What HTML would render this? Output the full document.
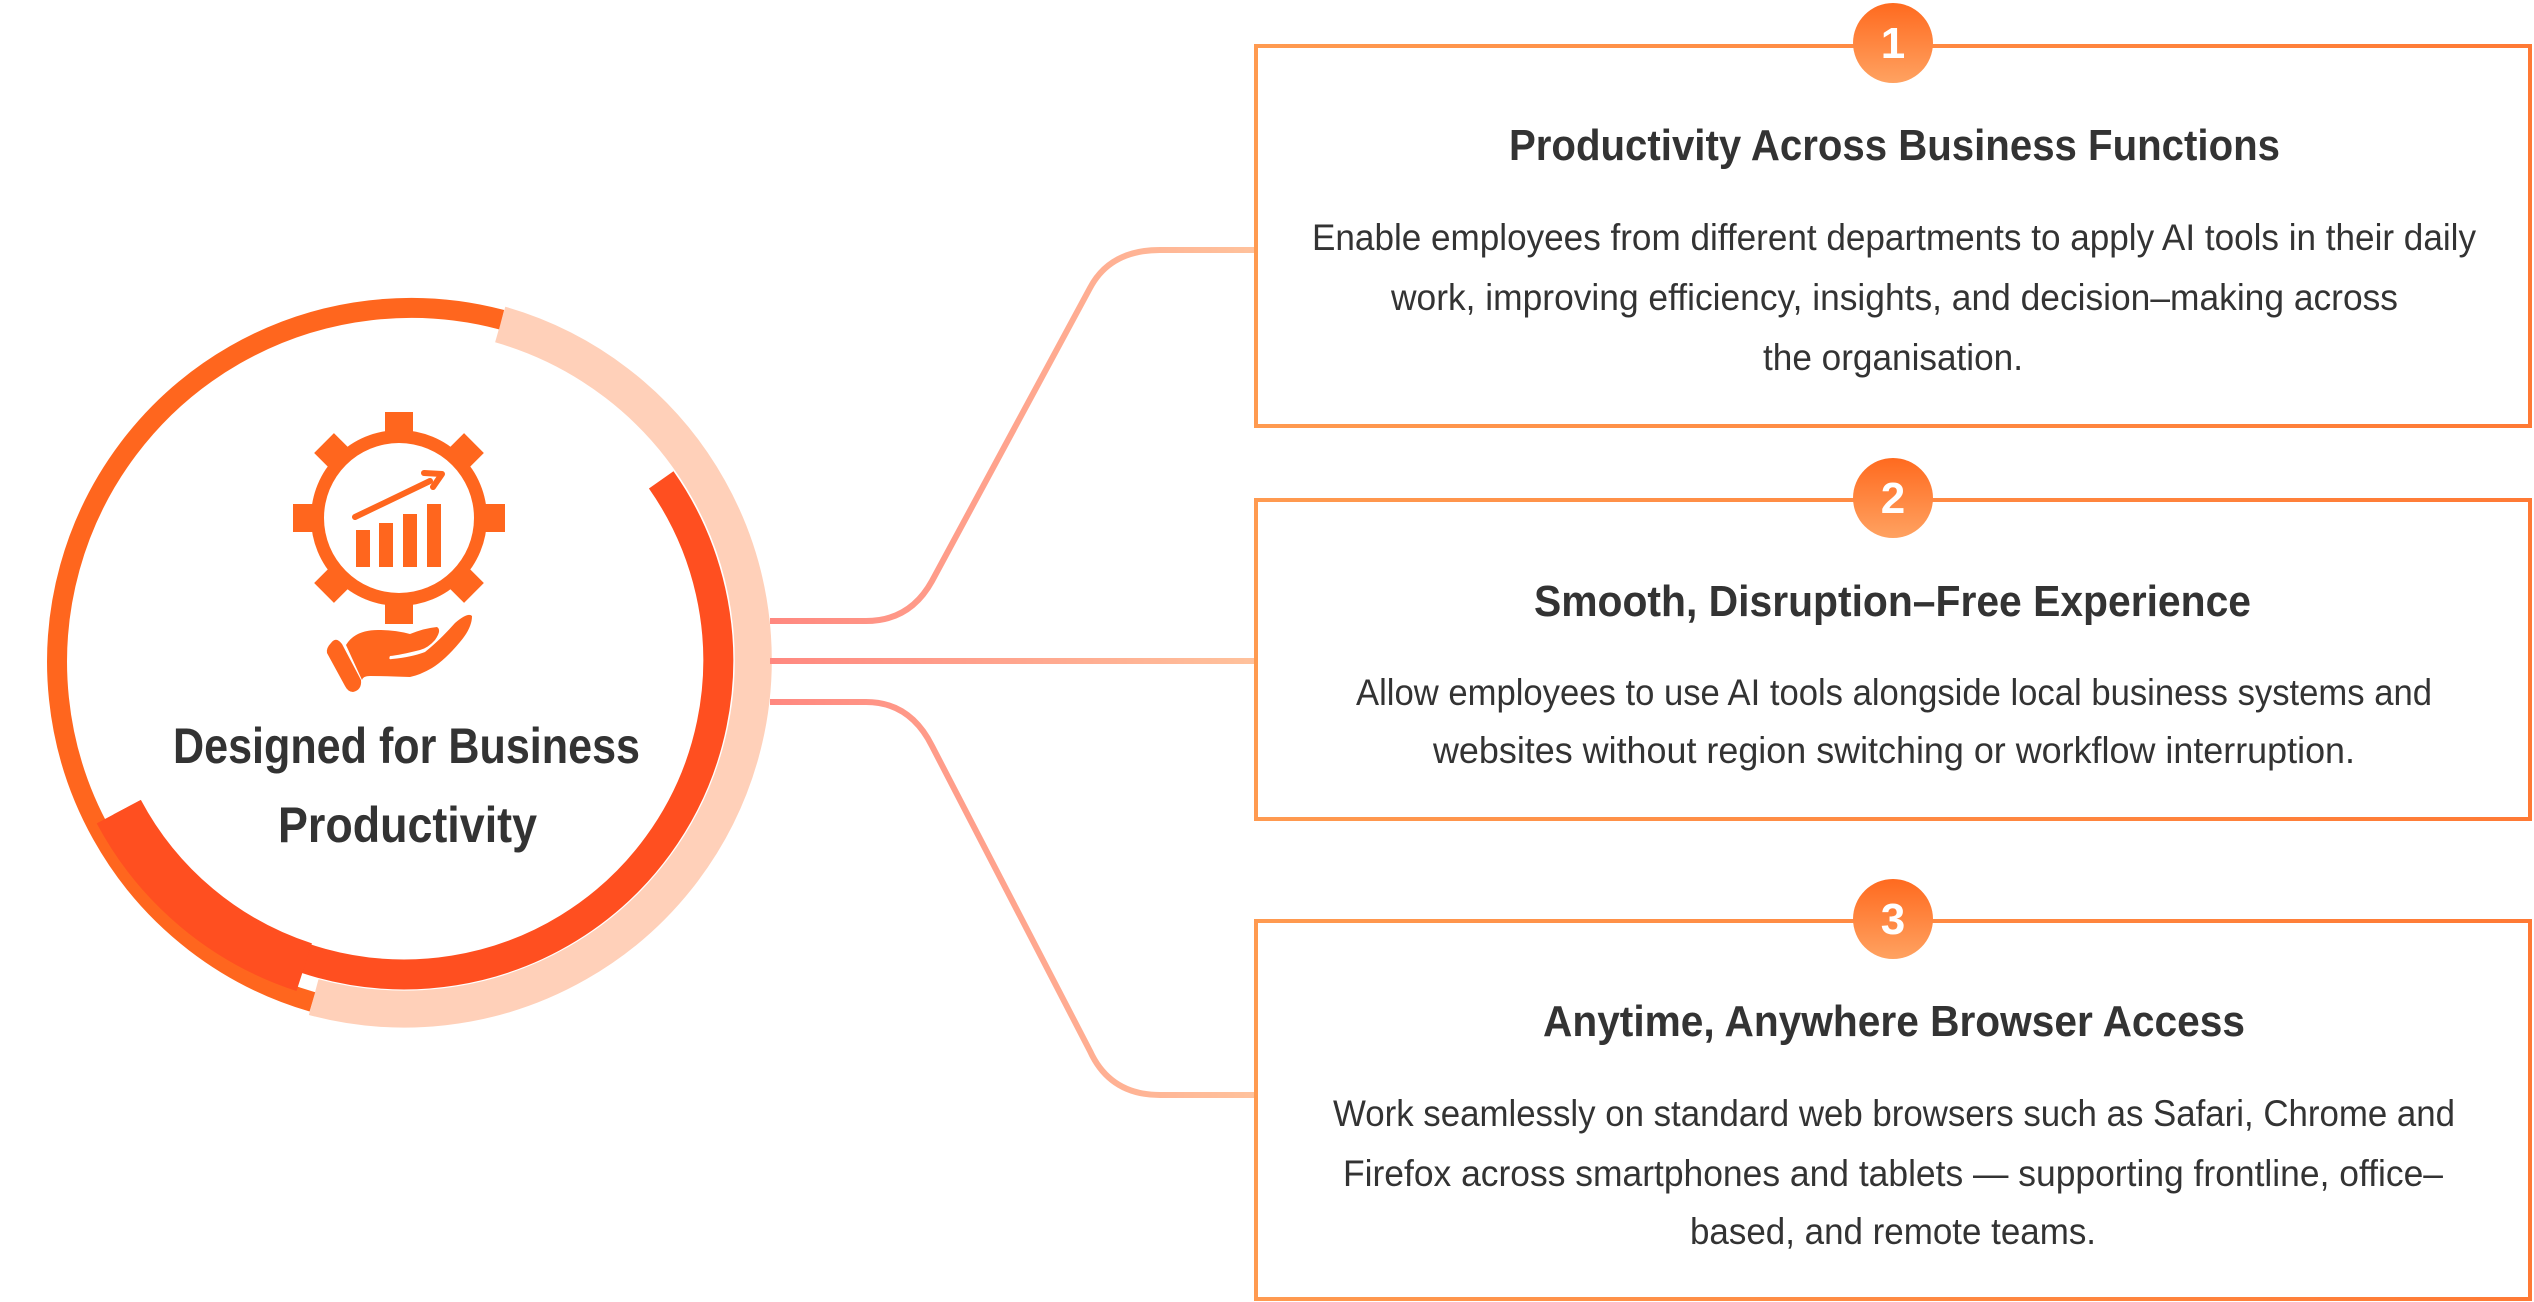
<!DOCTYPE html>
<html><head><meta charset="utf-8"><style>
html,body{margin:0;padding:0;background:#fff;}
svg{display:block;}
text{font-family:"Liberation Sans",sans-serif;}
</style></head><body>
<svg width="2534" height="1302" viewBox="0 0 2534 1302" xmlns="http://www.w3.org/2000/svg">
<defs>
<linearGradient id="ln" x1="770" y1="0" x2="1256" y2="0" gradientUnits="userSpaceOnUse">
<stop offset="0" stop-color="#ff8880"/><stop offset="1" stop-color="#ffc29c"/></linearGradient>
<linearGradient id="bx" x1="0" y1="0" x2="1" y2="0">
<stop offset="0" stop-color="#ff9a50"/><stop offset="1" stop-color="#ff7a35"/></linearGradient>
<linearGradient id="bd" x1="0" y1="0" x2="0" y2="1">
<stop offset="0" stop-color="#ff6a1f"/><stop offset="1" stop-color="#ffa261"/></linearGradient>
</defs>

<!-- rings -->
<g fill="none">
<!-- peach arc from -74 to 105 deg, r 349 w 37 -->
<path d="M 500.2 324.5 A 349 349 0 0 1 313.7 997.1" stroke="#ffd0b9" stroke-width="37"/>
<!-- orange thin ring 105 -> 286 r 354 w 20 -->
<path d="M 312.4 1001.9 A 354 354 0 0 1 501.6 319.7" stroke="#ff661e" stroke-width="20"/>
<!-- red thick arc -35 -> 152 r 314 w 30 -->
<path d="M 661.2 479.9 A 314 314 0 1 1 126.8 807.4" stroke="#ff4f20" stroke-width="30"/>
<!-- bottom-left thick band 108 -> 152 r 323 w 48 -->
<path d="M 304.2 967.2 A 323 323 0 0 1 118.8 811.6" stroke="#ff4f20" stroke-width="50"/>
</g>

<!-- connectors -->
<g fill="none" stroke="url(#ln)" stroke-width="6">
<path d="M 770 621 L 866 621 Q 910 621 932 581 L 1090 288 Q 1110 250 1160 250 L 1256 250"/>
<path d="M 770 661 L 1256 661"/>
<path d="M 770 702 L 866 702 Q 910 702 932 746 L 1090 1051 Q 1110 1095 1160 1095 L 1256 1095"/>
</g>

<!-- boxes -->
<g fill="#fff" stroke="url(#bx)" stroke-width="4">
<rect x="1256" y="46" width="1274" height="380"/>
<rect x="1256" y="500" width="1274" height="319"/>
<rect x="1256" y="921" width="1274" height="378"/>
</g>
<g fill="url(#bd)">
<circle cx="1893" cy="43" r="40"/>
<circle cx="1893" cy="498" r="40"/>
<circle cx="1893" cy="919" r="40"/>
</g>
<g fill="#fff" font-weight="bold" font-size="44" text-anchor="middle">
<text x="1893" y="58">1</text>
<text x="1893" y="513">2</text>
<text x="1893" y="934">3</text>
</g>

<g fill="#333" font-weight="bold" font-size="44">
<text x="1509" y="160" textLength="771" lengthAdjust="spacingAndGlyphs">Productivity Across Business Functions</text>
<text x="1534" y="616" textLength="717" lengthAdjust="spacingAndGlyphs">Smooth, Disruption–Free Experience</text>
<text x="1543" y="1036" textLength="702" lengthAdjust="spacingAndGlyphs">Anytime, Anywhere Browser Access</text>
</g>
<g fill="#333" font-size="37">
<text x="1312" y="250" textLength="1164" lengthAdjust="spacingAndGlyphs">Enable employees from different departments to apply AI tools in their daily</text>
<text x="1391" y="310" textLength="1007" lengthAdjust="spacingAndGlyphs">work, improving efficiency, insights, and decision–making across</text>
<text x="1763" y="370" textLength="260" lengthAdjust="spacingAndGlyphs">the organisation.</text>
<text x="1356" y="705" textLength="1076" lengthAdjust="spacingAndGlyphs">Allow employees to use AI tools alongside local business systems and</text>
<text x="1433" y="763" textLength="922" lengthAdjust="spacingAndGlyphs">websites without region switching or workflow interruption.</text>
<text x="1333" y="1126" textLength="1122" lengthAdjust="spacingAndGlyphs">Work seamlessly on standard web browsers such as Safari, Chrome and</text>
<text x="1343" y="1186" textLength="1100" lengthAdjust="spacingAndGlyphs">Firefox across smartphones and tablets — supporting frontline, office–</text>
<text x="1690" y="1244" textLength="406" lengthAdjust="spacingAndGlyphs">based, and remote teams.</text>
</g>

<!-- circle text -->
<g fill="#333" font-weight="bold" font-size="50">
<text x="173" y="763" textLength="467" lengthAdjust="spacingAndGlyphs">Designed for Business</text>
<text x="278" y="842" textLength="259" lengthAdjust="spacingAndGlyphs">Productivity</text>
</g>

<!-- icon: gear -->
<g fill="#ff661e" transform="translate(399,518)">
<circle r="88"/>
<g>
<rect x="-14" y="-106" width="28" height="40"/>
<rect x="-14" y="-106" width="28" height="40" transform="rotate(45)"/>
<rect x="-14" y="-106" width="28" height="40" transform="rotate(90)"/>
<rect x="-14" y="-106" width="28" height="40" transform="rotate(135)"/>
<rect x="-14" y="-106" width="28" height="40" transform="rotate(180)"/>
<rect x="-14" y="-106" width="28" height="40" transform="rotate(225)"/>
<rect x="-14" y="-106" width="28" height="40" transform="rotate(270)"/>
<rect x="-14" y="-106" width="28" height="40" transform="rotate(315)"/>
</g>
<circle r="75" fill="#fff"/>
</g>
<g fill="#ff661e">
<rect x="356" y="530" width="14" height="37"/>
<rect x="379" y="523" width="14" height="44"/>
<rect x="403" y="514" width="14" height="53"/>
<rect x="427" y="504" width="14" height="63"/>
</g>
<path d="M 355 517 L 430 481" stroke="#ff661e" stroke-width="6" stroke-linecap="round" fill="none"/>
<path d="M 424 473 L 442 474 L 433 487" stroke="#ff661e" stroke-width="6" stroke-linecap="round" stroke-linejoin="round" fill="none"/>
<!-- hand -->
<path d="M 346 645 Q 355 630 378 630 Q 395 630 410 634 Q 425 628 437 627 Q 442 630 435 640 Q 428 648 420 650 Q 400 655 390 656 Q 388 660 392 659 Q 412 657 425 652 Q 440 640 455 623 Q 468 612 472 616 Q 472 628 460 642 Q 445 660 432 668 Q 420 675 410 677 Q 385 676 370 676 Q 363 676 362 680 Z" fill="#ff661e"/>
<path d="M 331 643 Q 336 636 342 644 L 361 680 Q 362 690 353 692 Q 348 692 345 686 L 327 653 Q 326 648 331 643 Z" fill="#ff661e"/>
</svg>
</body></html>
